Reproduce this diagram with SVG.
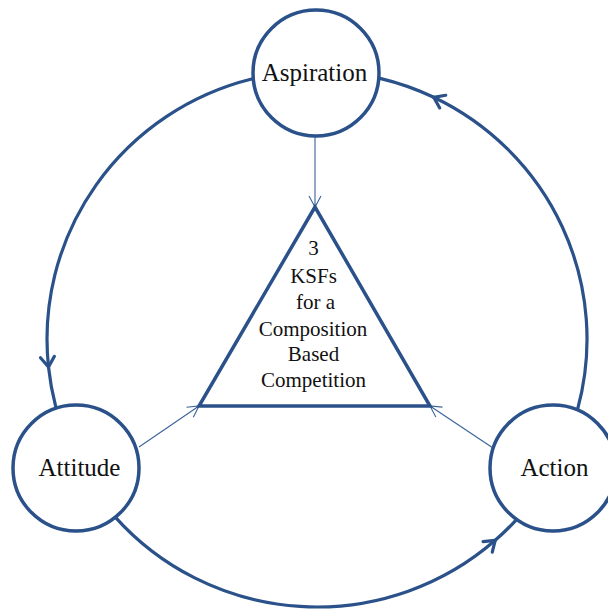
<svg xmlns="http://www.w3.org/2000/svg" width="608" height="610" viewBox="0 0 608 610">
<style>
.arc{fill:none;stroke:#2a5189;stroke-width:3.2;stroke-linecap:round}
.thin{fill:none;stroke:#3a629a;stroke-width:1.1}
.node{fill:#fff;stroke:#2a5189;stroke-width:3.5}
.lbl{font-family:"Liberation Serif","Times New Roman",serif;font-size:25px;fill:#111;text-anchor:middle}
.tri{font-family:"Liberation Serif","Times New Roman",serif;font-size:21px;fill:#111;text-anchor:middle}
</style>
<defs>
<marker id="chev" markerUnits="userSpaceOnUse" markerWidth="24" markerHeight="24" viewBox="-14 -12 16 24" refX="0" refY="0" orient="auto">
<path d="M-10,-7 L0,0 L-10,7" fill="none" stroke="#2a5189" stroke-width="3.2" stroke-linecap="round" stroke-linejoin="round"/>
</marker>
<marker id="thinhead" markerUnits="userSpaceOnUse" markerWidth="24" markerHeight="24" viewBox="-14 -12 16 24" refX="0" refY="0" orient="auto">
<path d="M-11,-6 L0,0 L-11,6" fill="none" stroke="#3a629a" stroke-width="1.1"/>
</marker>
</defs>
<g id="connectors">
<path class="arc" d="M251.7,79 A270,268 0 0 0 48.5,367" marker-end="url(#chev)"/>
<path class="arc" d="M48.5,367 A270,268 0 0 0 55.6,406.1"/>
<path class="arc" d="M114.8,516.6 A270,268 0 0 0 495.2,540.3" marker-end="url(#chev)"/>
<path class="arc" d="M495.2,540.3 A270,268 0 0 0 518.3,517.6"/>
<path class="arc" d="M577.8,408.4 A270,268 0 0 0 433.7,97.3" marker-end="url(#chev)"/>
<path class="arc" d="M433.7,97.3 A270,268 0 0 0 380,78.4"/>
<path class="thin" d="M315,136 L315,207" marker-end="url(#thinhead)"/>
<path class="thin" d="M139,447 L199,406" marker-end="url(#thinhead)"/>
<path class="thin" d="M493,448 L430,406" marker-end="url(#thinhead)"/>
</g>
<g id="ksf">
<polygon points="315,207 199,406 430,406" fill="none" stroke="#2a5189" stroke-width="3.5" stroke-linejoin="miter"/>
<text class="tri" x="313.5" y="255">3</text>
<text class="tri" x="313.5" y="282.5">KSFs</text>
<text class="tri" x="315.5" y="309">for a</text>
<text class="tri" x="313" y="335.5">Composition</text>
<text class="tri" x="313.5" y="361">Based</text>
<text class="tri" x="313.5" y="387">Competition</text>
</g>
<g id="aspiration">
<circle class="node" cx="316" cy="73" r="63"/>
<text class="lbl" x="314.5" y="81">Aspiration</text>
</g>
<g id="attitude">
<circle class="node" cx="76" cy="468" r="63"/>
<text class="lbl" x="79.5" y="476">Attitude</text>
</g>
<g id="action">
<circle class="node" cx="553" cy="468" r="63"/>
<text class="lbl" x="554.5" y="476">Action</text>
</g>
</svg>
